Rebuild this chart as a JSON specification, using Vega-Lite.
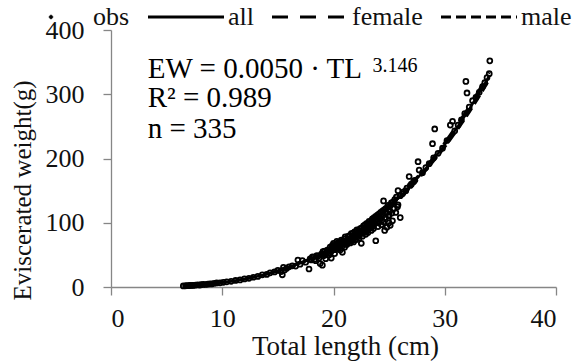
{
  "$schema": "https://vega.github.io/schema/vega-lite/v6.json",
  "width": 445,
  "height": 257,
  "autosize": {"type": "none"},
  "padding": {"left": 111, "top": 30, "right": 25, "bottom": 75},
  "background": "white",
  "config": {
    "view": {"stroke": null},
    "font": "Liberation Serif",
    "text": {"font": "Liberation Serif"},
    "legend": {"labelFont": "Liberation Serif"},
    "axis": {
      "labelFont": "Liberation Serif",
      "labelFontSize": 26,
      "labelColor": "#111",
      "titleFont": "Liberation Serif",
      "titleFontSize": 27,
      "titleFontWeight": "normal",
      "titleColor": "#111",
      "domainColor": "#868686",
      "tickColor": "#868686",
      "domainWidth": 1.3,
      "tickWidth": 1.3,
      "tickSize": 8,
      "grid": false
    }
  },
  "datasets": {
    "obs": [
      {"TL":6.5,"EW":1.6},{"TL":6.7,"EW":1.9},{"TL":6.8,"EW":2.1},{"TL":7.0,"EW":2.0},{"TL":7.1,"EW":2.5},{"TL":7.3,"EW":2.6},{"TL":7.4,"EW":2.4},{"TL":7.6,"EW":3.0},{"TL":7.8,"EW":3.2},{"TL":8.0,"EW":3.0},
      {"TL":8.1,"EW":3.6},{"TL":8.3,"EW":4.0},{"TL":8.5,"EW":3.9},{"TL":8.7,"EW":4.5},{"TL":8.9,"EW":4.8},{"TL":9.1,"EW":5.0},{"TL":9.3,"EW":5.8},{"TL":9.5,"EW":6.3},{"TL":9.8,"EW":6.5},{"TL":10.1,"EW":7.2},
      {"TL":10.4,"EW":8.0},{"TL":10.8,"EW":8.8},{"TL":11.2,"EW":10.2},{"TL":11.6,"EW":11.0},{"TL":12.0,"EW":12.6},{"TL":12.4,"EW":13.5},{"TL":12.8,"EW":15.2},{"TL":13.2,"EW":16.5},{"TL":13.6,"EW":18.9},{"TL":14.0,"EW":19.5},
      {"TL":14.3,"EW":22.0},{"TL":14.7,"EW":23.4},{"TL":15.0,"EW":25.8},{"TL":15.3,"EW":24.0},{"TL":15.4,"EW":19.0},{"TL":15.5,"EW":30.5},{"TL":15.6,"EW":26.5},{"TL":15.8,"EW":29.0},{"TL":16.0,"EW":31.5},{"TL":16.3,"EW":33.0},{"TL":16.6,"EW":32.5},
      {"TL":16.8,"EW":42.0},{"TL":17.0,"EW":35.5},{"TL":17.2,"EW":41.0},{"TL":17.5,"EW":38.5},{"TL":17.8,"EW":28.0},{"TL":17.9,"EW":44.0},{"TL":18.0,"EW":42.0},{"TL":18.2,"EW":46.5},{"TL":18.4,"EW":41.0},{"TL":18.5,"EW":49.0},
      {"TL":18.7,"EW":45.0},{"TL":18.8,"EW":36.5},{"TL":19.0,"EW":34.0},{"TL":19.0,"EW":52.0},{"TL":19.1,"EW":48.5},{"TL":19.2,"EW":56.0},{"TL":19.3,"EW":44.0},{"TL":19.4,"EW":53.5},{"TL":19.5,"EW":58.0},{"TL":19.6,"EW":50.0},{"TL":19.7,"EW":62.0},
      {"TL":19.8,"EW":45.0},{"TL":19.8,"EW":55.5},{"TL":19.9,"EW":65.0},{"TL":20.0,"EW":59.0},{"TL":20.0,"EW":68.0},{"TL":20.1,"EW":52.0},{"TL":20.2,"EW":63.5},{"TL":20.3,"EW":71.0},{"TL":20.4,"EW":60.0},{"TL":20.5,"EW":66.5},{"TL":20.6,"EW":57.5},
      {"TL":20.7,"EW":73.0},{"TL":20.8,"EW":54.0},{"TL":20.8,"EW":64.0},{"TL":20.9,"EW":69.5},{"TL":21.0,"EW":75.0},{"TL":21.0,"EW":62.0},{"TL":21.1,"EW":71.5},{"TL":21.2,"EW":66.0},{"TL":21.3,"EW":79.0},{"TL":21.4,"EW":73.0},{"TL":21.5,"EW":68.5},
      {"TL":21.6,"EW":83.0},{"TL":21.7,"EW":76.5},{"TL":21.8,"EW":70.0},{"TL":21.9,"EW":86.0},{"TL":22.0,"EW":80.0},{"TL":22.0,"EW":73.5},{"TL":22.1,"EW":89.0},{"TL":22.2,"EW":82.5},{"TL":22.3,"EW":76.0},{"TL":22.4,"EW":91.0},
      {"TL":22.5,"EW":68.0},{"TL":22.5,"EW":85.5},{"TL":22.6,"EW":79.0},{"TL":22.7,"EW":95.0},{"TL":22.8,"EW":88.0},{"TL":22.9,"EW":82.0},{"TL":23.0,"EW":99.0},{"TL":23.0,"EW":92.0},{"TL":23.1,"EW":85.0},{"TL":23.2,"EW":102.0},{"TL":23.3,"EW":95.5},
      {"TL":23.4,"EW":88.0},{"TL":23.5,"EW":106.0},{"TL":23.5,"EW":98.0},{"TL":23.6,"EW":91.0},{"TL":23.8,"EW":72.0},{"TL":23.8,"EW":110.0},{"TL":23.9,"EW":102.0},{"TL":24.0,"EW":94.0},{"TL":24.1,"EW":114.0},{"TL":24.2,"EW":106.0},
      {"TL":24.3,"EW":97.0},{"TL":24.4,"EW":118.0},{"TL":24.5,"EW":134.0},{"TL":24.5,"EW":101.0},{"TL":24.6,"EW":88.0},{"TL":24.7,"EW":122.0},{"TL":24.8,"EW":93.0},{"TL":24.9,"EW":127.0},{"TL":25.0,"EW":100.0},{"TL":25.0,"EW":112.0},{"TL":25.1,"EW":96.0},{"TL":25.2,"EW":131.0},
      {"TL":25.3,"EW":103.0},{"TL":25.5,"EW":136.0},{"TL":25.6,"EW":116.0},{"TL":25.8,"EW":128.0},{"TL":25.8,"EW":150.0},{"TL":26.0,"EW":108.0},{"TL":26.0,"EW":142.0},{"TL":26.3,"EW":148.0},{"TL":26.6,"EW":154.0},{"TL":26.8,"EW":172.0},
      {"TL":27.0,"EW":160.0},{"TL":27.3,"EW":166.0},{"TL":27.6,"EW":195.0},{"TL":27.7,"EW":182.0},{"TL":28.0,"EW":178.0},{"TL":28.3,"EW":186.0},{"TL":28.6,"EW":192.0},{"TL":28.9,"EW":223.0},{"TL":29.1,"EW":246.0},{"TL":29.0,"EW":201.0},
      {"TL":29.4,"EW":208.0},{"TL":29.8,"EW":216.0},{"TL":30.2,"EW":228.0},{"TL":30.5,"EW":252.0},{"TL":30.7,"EW":258.0},{"TL":30.9,"EW":243.0},{"TL":31.2,"EW":252.0},{"TL":31.5,"EW":260.0},{"TL":31.8,"EW":270.0},{"TL":32.0,"EW":302.0},
      {"TL":31.9,"EW":320.0},{"TL":32.2,"EW":280.0},{"TL":32.5,"EW":290.0},{"TL":32.8,"EW":295.0},{"TL":33.1,"EW":303.0},{"TL":33.4,"EW":312.0},{"TL":33.6,"EW":318.0},{"TL":33.8,"EW":326.0},{"TL":34.0,"EW":332.0},{"TL":34.05,"EW":352.0},
      {"TL":18.1,"EW":47},{"TL":18.3,"EW":43},{"TL":18.6,"EW":48},{"TL":18.9,"EW":51},{"TL":19.05,"EW":55},{"TL":19.25,"EW":50},{"TL":19.45,"EW":57},{"TL":19.55,"EW":53},{"TL":19.75,"EW":58},{"TL":19.85,"EW":60},
      {"TL":19.95,"EW":62},{"TL":20.05,"EW":64},{"TL":20.15,"EW":58},{"TL":20.25,"EW":67},{"TL":20.35,"EW":61},{"TL":20.45,"EW":69},{"TL":20.55,"EW":63},{"TL":20.65,"EW":70},{"TL":20.75,"EW":66},{"TL":20.85,"EW":72},
      {"TL":20.95,"EW":67},{"TL":21.05,"EW":78},{"TL":21.15,"EW":69},{"TL":21.25,"EW":74},{"TL":21.35,"EW":70},{"TL":21.45,"EW":80},{"TL":21.55,"EW":75},{"TL":21.65,"EW":72},{"TL":21.75,"EW":84},{"TL":21.85,"EW":78},
      {"TL":21.95,"EW":74},{"TL":22.05,"EW":86},{"TL":22.15,"EW":78},{"TL":22.25,"EW":88},{"TL":22.35,"EW":81},{"TL":22.45,"EW":86},{"TL":22.55,"EW":92},{"TL":22.65,"EW":84},{"TL":22.75,"EW":90},{"TL":22.85,"EW":97},
      {"TL":22.95,"EW":87},{"TL":23.05,"EW":96},{"TL":23.15,"EW":90},{"TL":23.25,"EW":99},{"TL":23.35,"EW":93},{"TL":23.45,"EW":104},{"TL":23.55,"EW":95},{"TL":23.65,"EW":108},{"TL":23.75,"EW":99},{"TL":23.85,"EW":105},
      {"TL":23.95,"EW":112},{"TL":24.05,"EW":100},{"TL":24.15,"EW":109},{"TL":24.25,"EW":116},{"TL":24.35,"EW":104},{"TL":24.45,"EW":112},{"TL":24.55,"EW":120},{"TL":24.65,"EW":108},{"TL":24.75,"EW":115},{"TL":24.85,"EW":124},
      {"TL":24.95,"EW":110},{"TL":25.05,"EW":118},{"TL":25.15,"EW":128},{"TL":25.25,"EW":115},{"TL":25.35,"EW":132},{"TL":25.45,"EW":122},{"TL":25.65,"EW":140},{"TL":25.75,"EW":125},{"TL":26.2,"EW":145},{"TL":26.5,"EW":150},
      {"TL":26.9,"EW":158},{"TL":27.2,"EW":164}
    ],
    "fits": [
      {"series":"all","TL":6.5,"EW":1.8},{"series":"all","TL":8,"EW":3.5},{"series":"all","TL":10,"EW":7.0},{"series":"all","TL":12,"EW":12.4},{"series":"all","TL":14,"EW":20.2},{"series":"all","TL":16,"EW":30.7},{"series":"all","TL":18,"EW":44.5},{"series":"all","TL":20,"EW":61.9},{"series":"all","TL":22,"EW":83.6},{"series":"all","TL":24,"EW":109.9},{"series":"all","TL":26,"EW":141.2},{"series":"all","TL":28,"EW":178.4},{"series":"all","TL":30,"EW":221.6},{"series":"all","TL":32,"EW":271.5},{"series":"all","TL":34,"EW":328.6},
      {"series":"female","TL":6.5,"EW":1.8},{"series":"female","TL":8,"EW":3.5},{"series":"female","TL":10,"EW":7.1},{"series":"female","TL":12,"EW":12.5},{"series":"female","TL":14,"EW":20.4},{"series":"female","TL":16,"EW":31.0},{"series":"female","TL":18,"EW":45.0},{"series":"female","TL":20,"EW":62.6},{"series":"female","TL":22,"EW":84.6},{"series":"female","TL":24,"EW":111.3},{"series":"female","TL":26,"EW":143.2},{"series":"female","TL":28,"EW":181.0},{"series":"female","TL":30,"EW":225.0},{"series":"female","TL":32,"EW":276.0},{"series":"female","TL":34,"EW":334.0},
      {"series":"male","TL":6.5,"EW":1.8},{"series":"male","TL":8,"EW":3.4},{"series":"male","TL":10,"EW":6.9},{"series":"male","TL":12,"EW":12.2},{"series":"male","TL":14,"EW":19.9},{"series":"male","TL":16,"EW":30.3},{"series":"male","TL":18,"EW":43.9},{"series":"male","TL":20,"EW":61.0},{"series":"male","TL":22,"EW":82.3},{"series":"male","TL":24,"EW":108.1},{"series":"male","TL":26,"EW":138.8},{"series":"male","TL":28,"EW":175.3},{"series":"male","TL":30,"EW":217.6},{"series":"male","TL":32,"EW":266.4},{"series":"male","TL":34,"EW":322.2}
    ],
    "notes": [
      {"TL":3.3,"EW":325,"label":"EW = 0.0050 · TL","kind":"main"},
      {"TL":3.3,"EW":280,"label":"R² = 0.989","kind":"main"},
      {"TL":3.3,"EW":232,"label":"n = 335","kind":"main"},
      {"TL":23.5,"EW":335,"label":"3.146","kind":"sup"}
    ]
  },
  "layer": [
    {
      "data": {"name": "obs"},
      "mark": {"type": "point", "shape": "circle", "filled": false, "color": "#000", "size": 24, "strokeWidth": 1.8, "opacity": 1},
      "encoding": {
        "x": {"field": "TL", "type": "quantitative", "scale": {"domain": [0, 40], "nice": false, "zero": false},
          "axis": {"values": [0, 10, 20, 30, 40], "title": "Total length (cm)", "labelFont": "Liberation Serif", "titleFont": "Liberation Serif", "labelPadding": 10, "titlePadding": 2, "titleX": 234}},
        "y": {"field": "EW", "type": "quantitative", "scale": {"domain": [0, 400], "nice": false},
          "axis": {"values": [0, 100, 200, 300, 400], "title": "Eviscerated  weight(g)", "labelFont": "Liberation Serif", "titleFont": "Liberation Serif", "labelPadding": 19, "titleFontSize": 25, "titleX": -89, "titleY": 160, "titleAngle": 270, "titleBaseline": "middle", "titleAlign": "center"}}
      }
    },
    {
      "data": {"name": "fits"},
      "mark": {"type": "line", "color": "#000", "strokeWidth": 2.6, "interpolate": "monotone"},
      "encoding": {
        "x": {"field": "TL", "type": "quantitative"},
        "y": {"field": "EW", "type": "quantitative"},
        "strokeDash": {
          "field": "series", "type": "nominal",
          "scale": {"domain": ["obs", "all", "female", "male"], "range": [[1, 0], [1, 0], [16, 12], [10, 5]]},
          "legend": {
            "orient": "none", "legendX": -98, "legendY": -26, "direction": "horizontal", "title": null,
            "padding": 0, "columnPadding": 12, "labelOffset": 29, "symbolOffset": 25,
            "labelFont": "Liberation Serif", "labelFontSize": 26, "labelColor": "#111", "labelLimit": 200,
            "symbolType": "stroke", "symbolSize": 5776, "symbolStrokeWidth": 3, "symbolStrokeColor": "#000",
            "encode": {
              "symbols": {
                "update": {
                  "shape": {"signal": "datum.value === 'obs' ? 'circle' : 'stroke'"},
                  "size": {"signal": "datum.value === 'obs' ? 12 : 5776"},
                  "stroke": {"value": "#000"},
                  "fill": {"signal": "datum.value === 'obs' ? '#000' : 'transparent'"},
                  "strokeWidth": {"signal": "datum.value === 'obs' ? 1 : 3"},
                  "opacity": {"value": 1}
                }
              }
            }
          }
        }
      }
    },
    {
      "data": {"name": "notes"},
      "transform": [{"filter": "datum.kind === 'main'"}],
      "mark": {"type": "text", "align": "left", "baseline": "alphabetic", "font": "Liberation Serif", "fontSize": 29, "color": "#000"},
      "encoding": {"x": {"field": "TL", "type": "quantitative"}, "y": {"field": "EW", "type": "quantitative"}, "text": {"field": "label"}}
    },
    {
      "data": {"name": "notes"},
      "transform": [{"filter": "datum.kind === 'sup'"}],
      "mark": {"type": "text", "align": "left", "baseline": "alphabetic", "font": "Liberation Serif", "fontSize": 20, "color": "#000"},
      "encoding": {"x": {"field": "TL", "type": "quantitative"}, "y": {"field": "EW", "type": "quantitative"}, "text": {"field": "label"}}
    }
  ]
}
